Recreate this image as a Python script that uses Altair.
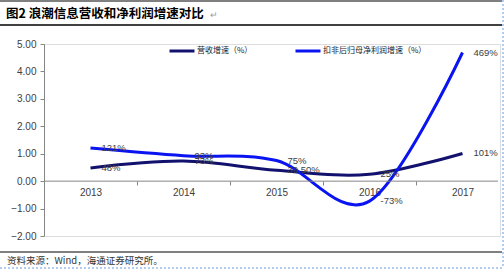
import altair as alt
import pandas as pd

years = ["2013", "2014", "2015", "2016", "2017"]
rev_name = "营收增速（%）"
np_name = "扣非后归母净利润增速（%）"
rev_vals = [0.48, 0.73, 0.395, 0.25, 1.01]
rev_labels = ["48%", "73%", "39.50%", "25%", "101%"]
np_vals = [1.21, 0.93, 0.75, -0.73, 4.69]
np_labels = ["121%", "93%", "75%", "-73%", "469%"]
y_ticks = [-2, -1, 0, 1, 2, 3, 4, 5]
title_text = "图2  浪潮信息营收和净利润增速对比"
source_text = "资料来源：Wind，海通证券研究所。"

rows = []
for y, v, l in zip(years, rev_vals, rev_labels):
    rows.append({"year": y, "value": v, "label": l, "series": rev_name})
for y, v, l in zip(years, np_vals, np_labels):
    rows.append({"year": y, "value": v, "label": l, "series": np_name})
df = pd.DataFrame(rows)

NAVY = "#12126e"
BLUE = "#0a14f0"
AX = "#868686"
TXT = "#404040"
num_font = "Liberation Sans"
cjk = "Noto Sans CJK SC"

xenc = alt.X(
    "year:O",
    bandPosition=0.5,
    sort=years,
    scale=alt.Scale(type="band", paddingInner=0, paddingOuter=0, range=[0, 465]),
    axis=alt.Axis(
        title=None, orient="bottom", offset=-55, domain=False, tickBand="extent",
        tickSize=4, tickColor=AX, labelPadding=2, labelAngle=0,
        labelFont=num_font, labelFontSize=10, labelColor=TXT,
    ),
)
yscale = alt.Scale(domain=[-2, 5], nice=False, zero=False)
yaxis = alt.Axis(
    title=None, values=y_ticks, format=".2f", grid=False, tickSize=4,
    tickColor=AX, domainColor=AX, labelPadding=4, labelFont=num_font,
    labelFontSize=10, labelColor=TXT, labelOverlap=False, tickCount=8,
)
yenc = alt.Y("value:Q", scale=yscale, axis=yaxis)
color = alt.Color(
    "series:N",
    sort=[rev_name, np_name],
    scale=alt.Scale(domain=[rev_name, np_name], range=[NAVY, BLUE]),
    legend=alt.Legend(
        title=None, orient="none", legendX=124, legendY=-7, direction="horizontal",
        symbolType="stroke", symbolSize=625, symbolStrokeWidth=3,
        labelFont=cjk, labelFontSize=8, labelColor="#222222", labelOffset=1,
        columnPadding=36,
    ),
)

base = alt.Chart(df)
lines = base.mark_line(interpolate="cardinal", strokeWidth=3).encode(
    x=xenc, y=yenc, color=color, detail="series:N"
)
labels = base.mark_text(
    align="left", baseline="middle", dx=11, fontSize=9.5, font=num_font, color=TXT
).encode(x=xenc, y=yenc, text="label:N", detail="series:N")

one = alt.Chart(pd.DataFrame({"a": [0]}))
zero_axis = one.mark_rule(color=AX, strokeWidth=1).encode(
    x=alt.value(0), x2=alt.value(454), y=alt.YDatum(0, scale=yscale, axis=yaxis)
)
title = one.mark_text(
    align="left", baseline="middle", font=cjk, fontSize=12.5, fontWeight="bold", color="#000000"
).encode(x=alt.value(-38), y=alt.value(-30), text=alt.value(title_text))
para = one.mark_text(
    align="left", baseline="middle", font=cjk, fontSize=9, color="#9a9a9a"
).encode(x=alt.value(166), y=alt.value(-29), text=alt.value("↵"))
top_line = one.mark_rule(color="#000000", strokeWidth=1).encode(
    x=alt.value(-44), x2=alt.value(458), y=alt.value(-43)
)
title_line = one.mark_rule(color="#000000", strokeWidth=1.5).encode(
    x=alt.value(-44), x2=alt.value(458), y=alt.value(-19)
)
bottom_line = one.mark_rule(color="#000000", strokeWidth=1).encode(
    x=alt.value(-44), x2=alt.value(458), y=alt.value(208)
)
source = one.mark_text(
    align="left", baseline="middle", font=cjk, fontSize=9.5, color="#333333"
).encode(x=alt.value(-37), y=alt.value(217), text=alt.value(source_text))
dash_b = one.mark_rule(color="#6a9bd8", strokeWidth=1, strokeDash=[2, 2]).encode(
    x=alt.value(-44), x2=alt.value(460), y=alt.value(224)
)
dash_r = one.mark_rule(color="#6a9bd8", strokeWidth=1, strokeDash=[2, 2]).encode(
    x=alt.value(459), y=alt.value(-44), y2=alt.value(224)
)

chart = alt.layer(
    lines, zero_axis, labels, title, para, top_line, title_line, bottom_line,
    source, dash_b, dash_r,
).resolve_scale(x="shared", y="shared").properties(
    width=456, height=192,
    padding={"left": 44, "top": 44, "right": 4, "bottom": 34},
    autosize=alt.AutoSizeParams(type="none"),
).configure_view(stroke=None).configure(background="#ffffff")

chart.save("out.html", embed_options={"renderer": "svg", "actions": False})
